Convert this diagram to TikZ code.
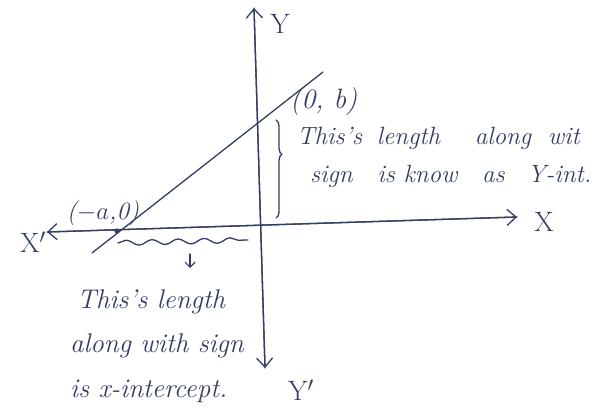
\documentclass[tikz,border=0pt]{standalone}
\usetikzlibrary{arrows.meta,decorations.pathmorphing,decorations.pathreplacing}
\definecolor{ink}{RGB}{52,62,98}
\begin{document}
\begin{tikzpicture}[x=1pt,y=-1pt,
  pen/.style={draw=ink,line width=1.3pt,line cap=round,line join=round},
  barb/.style={-{Straight Barb[length=9pt,width=16pt,line width=1.3pt]}},
  hand/.style={text=ink,font=\fontsize{25}{29}\selectfont\itshape,inner sep=0pt},
  handb/.style={text=ink,font=\fontsize{27}{31}\selectfont\itshape,inner sep=0pt},
  axlab/.style={text=ink,font=\fontsize{28}{30}\selectfont,inner sep=0pt}]
\useasboundingbox (0,0) rectangle (591,411);
\fill[white] (0,0) rectangle (591,411);
% axes
\coordinate (ytop) at (254,8);
\coordinate (ybot) at (265,368);
\coordinate (xl) at (47,232);
\coordinate (xr) at (517,217);
\draw[pen,barb] (ybot) -- (ytop);
\draw[pen,barb] (ytop) -- (ybot);
\draw[pen,barb] (xr) -- (xl);
\draw[pen,barb] (xl) -- (xr);
% line
\coordinate (la) at (92,253);
\coordinate (lb) at (323,72);
\draw[pen] (la) -- (lb);
\fill[ink] (117,231) circle (2.6pt);
% wavy line and arrow
\coordinate (w1) at (118,243);
\coordinate (w2) at (248,240);
\draw[pen,decorate,decoration={snake,amplitude=2.6pt,segment length=26pt}] (w1) -- (w2);
\coordinate (d1) at (190,254);
\coordinate (d2) at (190,268);
\draw[pen,-{Straight Barb[length=5pt,width=10pt,line width=1.2pt]}] (d1) -- (d2);
% brace
\coordinate (b1) at (276,120);
\coordinate (b2) at (276,218);
\draw[pen,decorate,decoration={brace,amplitude=6pt,aspect=0.35}] (b1) -- (b2);
% labels
\node[axlab] (Y) at (280,24) {Y};
\node[axlab] (X) at (544,222) {X};
\node[axlab] (Xp) at (33,242) {X$'$};
\node[axlab,anchor=west] (Yp) at (288,390) {Y$'$};
\node[hand] (pa) at (103,213) {($-a$,0)};
\node[hand,anchor=west,font=\fontsize{28}{30}\selectfont\itshape] (pb) at (290,102) {(0, b)};
\node[hand,anchor=west] (t1) at (297,138) {This's\hspace{6pt} length\hspace{26pt} along\hspace{8pt} wit};
\node[hand,anchor=west] (t2) at (310,176) {sign\hspace{16pt} is know\hspace{16pt} as\hspace{14pt} Y-int.};
\node[handb,anchor=west] (u1) at (77,302) {This's length};
\node[handb,anchor=west] (u2) at (70,346) {along with sign};
\node[handb,anchor=west] (u3) at (70,391) {is x-intercept.};
\end{tikzpicture}
\end{document}
